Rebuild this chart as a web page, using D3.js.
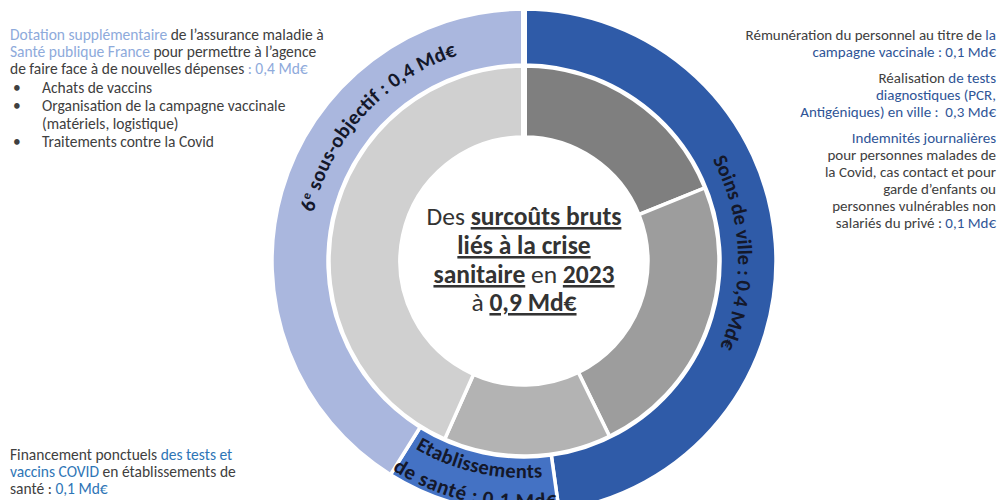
<!DOCTYPE html>
<html><head><meta charset="utf-8">
<script src="https://cdn.jsdelivr.net/npm/d3@7"></script>
<style>
html,body{margin:0;padding:0;background:#fff;}
svg{display:block;font-family:Carlito,Calibri,Lato,"Open Sans",sans-serif;}
</style></head>
<body>
<svg id="chart" width="1000" height="500"></svg>
<script>
// ---- Data ----
const outerCategories = ["Soins de ville", "Etablissements de santé", "6e sous-objectif"];
const outerValues = [0.43, 0.10, 0.37];           // Md€ (angular share)
const outerLabels = ["Soins de ville : 0,4 Md€", "Etablissements|de santé  : 0,1 Md€", "6e sous-objectif : 0,4 Md€"];
const innerCategories = ["Rémunération / campagne vaccinale", "Tests diagnostiques en ville", "Tests et vaccins en établissements", "Santé publique France"];
const innerValues = [0.17, 0.215, 0.125, 0.39];
const centerTitle = "0,9 Md€";

const outerColors = ["#2f5ba8", "#4472c4", "#aab7de"];
const innerColors = ["#7f7f7f", "#9d9d9d", "#b3b3b3", "#d0d0d0"];

const svg = d3.select("#chart");
const cx = 524, cy = 261;
const g = svg.append("g").attr("transform", `translate(${cx},${cy})`);

const pie = d3.pie().sort(null).value(d => d).startAngle(0).endAngle(2 * Math.PI);
const outerArc = d3.arc().innerRadius(196).outerRadius(252);
const innerArc = d3.arc().innerRadius(124).outerRadius(195);

const outerPie = pie(outerValues);
const innerPie = pie(innerValues);

g.selectAll("path.inner").data(innerPie).join("path")
  .attr("class", "inner")
  .attr("d", innerArc)
  .attr("fill", (d, i) => innerColors[i])
  .attr("stroke", "#fff").attr("stroke-width", 3.5);

g.selectAll("path.outer").data(outerPie).join("path")
  .attr("class", "outer")
  .attr("d", outerArc)
  .attr("fill", (d, i) => outerColors[i])
  .attr("stroke", "#fff").attr("stroke-width", 3.5);

// top separator (slightly wider)
g.append("line").attr("x1", 0).attr("x2", 0).attr("y1", -124).attr("y2", -254)
  .attr("stroke", "#fff").attr("stroke-width", 6);

// ---- curved labels ----
const defs = svg.append("defs");
const deg = Math.PI / 180;
function arcPath(r, a0, a1) { // angles in radians, clockwise from top
  const p = d3.path();
  p.moveTo(r * Math.sin(a0), -r * Math.cos(a0));
  p.arc(0, 0, r, a0 - Math.PI / 2, a1 - Math.PI / 2, a1 < a0);
  return p.toString();
}
function curvedLabel(id, r, center, arcSpan, ccw, text, size, sup) {
  const span = 80 * deg;
  const a0 = ccw ? center + span : center - span;
  const a1 = ccw ? center - span : center + span;
  defs.append("path").attr("id", id).attr("d", arcPath(r, a0, a1));
  const t = g.append("text").attr("font-size", size).attr("font-weight", 700).attr("fill", "#14182a");
  const tp = t.append("textPath").attr("href", "#" + id).attr("startOffset", "50%").attr("text-anchor", "middle")
    .attr("textLength", arcSpan * r).attr("lengthAdjust", "spacing");
  if (sup) {
    tp.append("tspan").text(text.slice(0, 1));
    tp.append("tspan").attr("font-size", size * 0.6).attr("dy", -7).text(text.slice(1, 2));
    tp.append("tspan").attr("dy", 7).text(text.slice(2));
  } else {
    tp.text(text);
  }
}
// 6e sous-objectif
const s6 = outerPie[2];
curvedLabel("lab6", 216, s6.endAngle - 47.5 * deg, 59 * deg, false, outerLabels[2], 20.5, true);
// Soins de ville
const sv = outerPie[0];
curvedLabel("labSV", 214, (sv.startAngle + sv.endAngle) / 2 + 1.7 * deg, 52 * deg, false, outerLabels[0], 20.5, false);
// Etablissements
const se = outerPie[1];
const seMid = (se.startAngle + se.endAngle) / 2;
const etabLines = outerLabels[1].split("|");
curvedLabel("labE1", 217, seMid + 0.6 * deg, 35 * deg, true, etabLines[0], 20.5, false);
curvedLabel("labE2", 247, seMid + 0.25 * deg, 40 * deg, true, etabLines[1], 21, false);

// ---- centre text ----
const dark = "#333333";
const centerLines = [
  [["Des ", false], ["surcoûts bruts", true]],
  [["liés à la crise", true]],
  [["sanitaire", true], [" en ", false], ["2023", true]],
  [["à ", false], [centerTitle, true]]
];
const cBase = [225, 254, 283, 311];
centerLines.forEach((line, i) => {
  const t = svg.append("text").attr("x", cx).attr("y", cBase[i]).attr("text-anchor", "middle")
    .attr("font-size", 25.5).attr("fill", dark);
  line.forEach(([s, u]) => {
    const ts = t.append("tspan").text(s);
    if (u) ts.attr("text-decoration", "underline").attr("font-weight", 600);
  });
});

// ---- annotation texts ----
const grey = "#404040", lightBlue = "#8eaadb", blue = "#2f5597", blue2 = "#2e75b6";
function richLine(x, y, parts, anchor, size) {
  const t = svg.append("text").attr("x", x).attr("y", y).attr("text-anchor", anchor || "start")
    .attr("font-size", size || 15.5).attr("xml:space", "preserve");
  parts.forEach(([s, c, w]) => t.append("tspan").attr("fill", c).attr("font-weight", w || 400).text(s));
  return t;
}
// top-left block
const tlLines = [
  [["Dotation supplémentaire", lightBlue], [" de l’assurance maladie à", grey]],
  [["Santé publique France", lightBlue], [" pour permettre à l’agence", grey]],
  [["de faire face à de nouvelles dépenses", grey], [" : 0,4 Md€", lightBlue]]
];
const tlY = [40, 57, 74];
tlLines.forEach((l, i) => richLine(10, tlY[i], l));
const bullets = ["Achats de vaccins", "Organisation de la campagne vaccinale", "(matériels, logistique)", "Traitements contre la Covid"];
const bulletMark = [true, true, false, true];
const bY = [93, 111, 129, 147];
bullets.forEach((b, i) => {
  if (bulletMark[i]) richLine(13, bY[i], [["•", grey]]);
  richLine(42, bY[i], [[b, grey]]);
});

// top-right block
const trLines = [
  [["Rémunération du personnel au titre de ", grey], ["la", blue]],
  [["campagne vaccinale : 0,1 Md€", blue]],
  [["Réalisation ", grey], ["de tests", blue]],
  [["diagnostiques (PCR,", blue]],
  [["Antigéniques) en ville :  0,3 Md€", blue]],
  [["Indemnités journalières", blue]],
  [["pour personnes malades de", grey]],
  [["la Covid, cas contact et pour", grey]],
  [["garde d’enfants ou", grey]],
  [["personnes vulnérables non", grey]],
  [["salariés du privé : ", grey], ["0,1 Md€", blue]]
];
const trY = [40, 57, 83, 100, 117, 143, 160, 177, 194, 211, 228];
trLines.forEach((l, i) => richLine(996, trY[i], l, "end", 15));

// bottom-left block
const blLines = [
  [["Financement ponctuels ", grey], ["des tests et", blue2]],
  [["vaccins COVID", blue2], [" en établissements de", grey]],
  [["santé : ", grey], ["0,1 Md€", blue2]]
];
const blY = [460, 477, 494];
blLines.forEach((l, i) => richLine(10, blY[i], l));
</script>
</body></html>
